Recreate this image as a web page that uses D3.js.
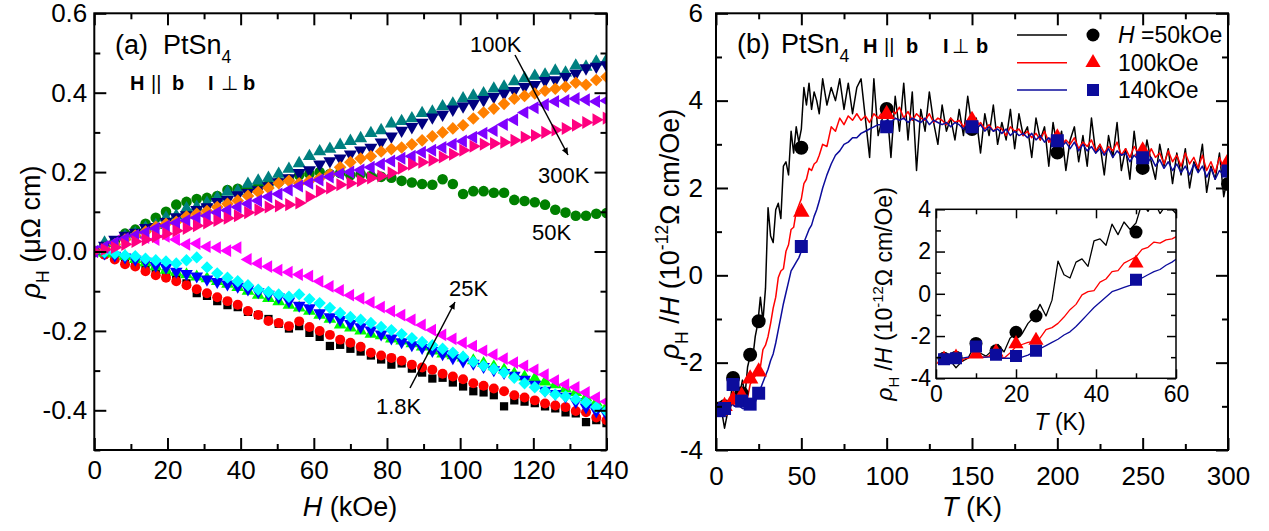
<!DOCTYPE html>
<html><head><meta charset="utf-8">
<script src="https://cdn.jsdelivr.net/npm/d3@7"></script>
<style>
body{margin:0;background:#fff}
svg{font-family:"Liberation Sans",Arial,sans-serif}
</style>
</head><body>
<svg id="c" width="1269" height="531"></svg>
<script>
// ---------------- DATA: panel (a) rho_H vs H ----------------
const fieldH = [0,2.8,5.6,8.4,11.2,14,16.8,19.6,22.4,25.2,
28,30.8,33.6,36.4,39.2,42,44.8,47.6,50.4,53.2,
56,58.8,61.6,64.4,67.2,70,72.8,75.6,78.4,81.2,
84,86.8,89.6,92.4,95.2,98,100.8,103.6,106.4,109.2,
112,114.8,117.6,120.4,123.2,126,128.8,131.6,134.4,137.2,
140];
const rho1p8K = [0.000,-0.005,-0.012,-0.020,-0.026,-0.035,-0.045,-0.055,-0.068,-0.080,
-0.105,-0.112,-0.125,-0.135,-0.140,-0.152,-0.160,-0.170,-0.182,-0.194,
-0.188,-0.205,-0.215,-0.238,-0.235,-0.245,-0.252,-0.262,-0.272,-0.285,
-0.282,-0.295,-0.305,-0.320,-0.318,-0.330,-0.340,-0.352,-0.355,-0.362,
-0.390,-0.375,-0.378,-0.382,-0.390,-0.395,-0.405,-0.408,-0.430,-0.425,
-0.432];
const rho5K = [0.000,-0.008,-0.020,-0.032,-0.038,-0.050,-0.060,-0.066,-0.075,-0.085,
-0.095,-0.105,-0.115,-0.125,-0.134,-0.150,-0.160,-0.175,-0.180,-0.188,
-0.176,-0.190,-0.200,-0.210,-0.222,-0.230,-0.240,-0.255,-0.262,-0.268,
-0.275,-0.285,-0.292,-0.298,-0.308,-0.315,-0.322,-0.332,-0.338,-0.345,
-0.352,-0.362,-0.368,-0.375,-0.383,-0.388,-0.392,-0.402,-0.405,-0.418,
-0.425];
const rho10K = [0.000,-0.004,-0.006,-0.012,-0.020,-0.028,-0.038,-0.047,-0.052,-0.058,
-0.064,-0.068,-0.075,-0.082,-0.090,-0.100,-0.110,-0.118,-0.126,-0.135,
-0.142,-0.150,-0.160,-0.170,-0.185,-0.192,-0.200,-0.208,-0.212,-0.220,
-0.225,-0.232,-0.240,-0.250,-0.258,-0.262,-0.268,-0.275,-0.282,-0.290,
-0.298,-0.308,-0.316,-0.320,-0.328,-0.335,-0.345,-0.355,-0.368,-0.380,
-0.392];
const rho15K = [0.000,-0.004,-0.010,-0.014,-0.020,-0.025,-0.035,-0.040,-0.050,-0.056,
-0.062,-0.070,-0.076,-0.082,-0.088,-0.095,-0.102,-0.108,-0.115,-0.125,
-0.136,-0.142,-0.155,-0.165,-0.172,-0.182,-0.190,-0.198,-0.208,-0.218,
-0.228,-0.235,-0.242,-0.250,-0.258,-0.268,-0.276,-0.282,-0.290,-0.298,
-0.305,-0.312,-0.322,-0.335,-0.350,-0.358,-0.365,-0.378,-0.392,-0.402,
-0.410];
const rho20K = [0.000,-0.002,-0.005,-0.010,-0.012,-0.018,-0.022,-0.025,-0.030,-0.022,
-0.015,-0.040,-0.055,-0.066,-0.075,-0.085,-0.096,-0.102,-0.108,-0.114,
-0.108,-0.120,-0.130,-0.142,-0.155,-0.165,-0.172,-0.180,-0.190,-0.198,
-0.208,-0.218,-0.228,-0.236,-0.245,-0.255,-0.265,-0.278,-0.288,-0.296,
-0.305,-0.318,-0.332,-0.342,-0.352,-0.360,-0.365,-0.372,-0.380,-0.392,
-0.402];
const rho25K = [0.000,0.010,0.025,0.040,0.050,0.035,0.030,0.038,0.030,0.018,
0.020,0.012,0.010,0.002,0.010,-0.020,-0.030,-0.038,-0.047,-0.052,
-0.058,-0.062,-0.075,-0.088,-0.098,-0.110,-0.118,-0.128,-0.140,-0.150,
-0.160,-0.172,-0.185,-0.198,-0.210,-0.220,-0.230,-0.238,-0.250,-0.260,
-0.270,-0.280,-0.288,-0.298,-0.310,-0.325,-0.335,-0.342,-0.355,-0.368,
-0.378];
const rho50K = [0.000,0.012,0.025,0.045,0.055,0.070,0.085,0.100,0.118,0.125,
0.132,0.135,0.140,0.155,0.158,0.160,0.165,0.168,0.175,0.182,
0.192,0.196,0.200,0.195,0.198,0.192,0.195,0.190,0.188,0.186,
0.178,0.174,0.170,0.168,0.182,0.170,0.145,0.152,0.152,0.148,
0.148,0.130,0.127,0.124,0.118,0.105,0.098,0.090,0.090,0.095,
0.097];
const rho100K = [0.000,0.022,0.020,0.038,0.045,0.060,0.066,0.085,0.090,0.108,
0.112,0.122,0.135,0.150,0.152,0.170,0.178,0.185,0.195,0.208,
0.222,0.240,0.252,0.258,0.268,0.278,0.285,0.298,0.305,0.322,
0.328,0.335,0.348,0.352,0.365,0.372,0.385,0.392,0.398,0.410,
0.415,0.428,0.436,0.442,0.445,0.455,0.450,0.468,0.465,0.478,
0.482];
const rho150K = [0.000,0.015,0.030,0.040,0.048,0.060,0.062,0.075,0.087,0.092,
0.105,0.112,0.125,0.130,0.142,0.148,0.155,0.165,0.175,0.185,
0.198,0.205,0.220,0.228,0.235,0.245,0.255,0.262,0.275,0.290,
0.305,0.314,0.325,0.338,0.345,0.358,0.366,0.372,0.382,0.390,
0.398,0.405,0.415,0.420,0.430,0.432,0.440,0.448,0.462,0.466,
0.470];
const rho200K = [0.000,0.008,0.018,0.030,0.040,0.050,0.062,0.070,0.075,0.088,
0.095,0.102,0.112,0.120,0.128,0.140,0.150,0.160,0.172,0.178,
0.172,0.178,0.185,0.195,0.212,0.225,0.234,0.240,0.252,0.258,
0.262,0.270,0.280,0.290,0.300,0.310,0.318,0.335,0.350,0.360,
0.372,0.385,0.392,0.398,0.405,0.410,0.415,0.425,0.420,0.432,
0.440];
const rho250K = [0.000,0.012,0.022,0.032,0.040,0.048,0.058,0.064,0.072,0.078,
0.085,0.090,0.098,0.104,0.112,0.120,0.128,0.138,0.145,0.155,
0.165,0.172,0.180,0.188,0.195,0.200,0.205,0.212,0.220,0.228,
0.235,0.240,0.250,0.255,0.262,0.270,0.278,0.288,0.298,0.305,
0.320,0.332,0.350,0.362,0.370,0.378,0.380,0.385,0.382,0.378,
0.380];
const rho300K = [0.000,0.005,0.010,0.018,0.025,0.030,0.038,0.045,0.052,0.058,
0.065,0.072,0.078,0.084,0.090,0.098,0.105,0.112,0.115,0.118,
0.122,0.138,0.152,0.160,0.168,0.172,0.178,0.185,0.190,0.198,
0.210,0.220,0.225,0.230,0.238,0.245,0.255,0.265,0.270,0.272,
0.275,0.280,0.288,0.292,0.300,0.306,0.310,0.318,0.325,0.332,
0.336];
const seriesNamesA = ["1.8K","5K","10K","15K","20K","25K","50K","100K","150K","200K","250K","300K"];
const seriesValuesA = [rho1p8K,rho5K,rho10K,rho15K,rho20K,rho25K,rho50K,rho100K,rho150K,rho200K,rho250K,rho300K];

// ---------------- DATA: panel (b) rho_H/H vs T ----------------
const tempLine = [2,3.5,5,6.5,8,9.5,11,12.5,14,15.5,
17,18.5,20,21.5,23,24.5,26,27.5,29,30.5,
32,33.5,35,36.5,38,39.5,41,42.5,44,45.5,
47,48.5,50,51.5,53,54.5,56,57.5,59,60.5,
62.5,65,67.5,70,72.5,75,77.5,80,82.5,85,
87.5,90,92.5,95,97.5,100,102.5,105,107.5,110,
112.5,115,117.5,120,122.5,125,127.5,130,132.5,135,
137.5,140,142.5,145,147.5,150,152.5,155,157.5,160,
162.5,165,167.5,170,172.5,175,177.5,180,182.5,185,
187.5,190,192.5,195,197.5,200,202.5,205,207.5,210,
212.5,215,217.5,220,222.5,225,227.5,230,232.5,235,
237.5,240,242.5,245,247.5,250,252.5,255,257.5,260,
262.5,265,267.5,270,272.5,275,277.5,280,282.5,285,
287.5,290,292.5,295,297.5,300];
const ratio50kOe = [-3.10,-3.15,-3.50,-3.20,-3.05,-2.50,-2.80,-2.95,-2.70,-2.40,
-2.75,-2.10,-1.85,-1.90,-1.40,-1.10,-0.50,-1.05,-0.30,1.55,
0.90,0.75,1.50,1.65,1.30,2.50,2.60,2.30,3.30,2.80,
3.40,3.05,3.35,4.30,3.90,4.40,3.80,4.20,4.00,3.70,
4.50,3.90,4.30,4.00,4.50,3.80,4.40,3.70,4.30,4.50,
3.60,2.70,4.50,3.20,3.60,3.90,2.70,4.10,3.30,4.40,
3.10,4.20,2.40,3.80,3.30,4.20,3.50,3.00,3.90,3.30,
3.60,3.10,3.80,3.20,4.10,3.40,3.60,2.80,3.70,3.20,
3.90,3.00,3.50,3.10,3.80,2.90,3.70,3.20,3.40,2.70,
3.60,3.10,3.40,2.50,3.50,2.90,3.30,2.40,3.10,3.40,
2.60,3.20,2.50,3.60,2.80,3.00,2.30,3.20,2.70,3.50,
2.40,2.90,2.20,3.30,2.50,2.40,3.10,2.60,2.20,3.00,
2.50,2.90,2.10,2.80,2.30,2.90,2.00,2.60,2.40,3.00,
1.90,2.50,2.20,2.80,1.80,2.30];
const ratio100kOe = [-3.10,-3.15,-3.20,-3.10,-3.05,-2.90,-3.00,-3.00,-2.90,-2.85,
-3.05,-2.80,-2.50,-2.40,-2.30,-2.25,-2.10,-1.70,-1.60,-1.40,
-1.10,-0.75,-0.50,-0.05,0.10,0.15,0.55,0.70,1.05,1.10,
1.45,1.60,1.75,2.10,2.20,2.45,2.40,2.55,2.60,2.75,
3.00,2.95,3.40,3.30,3.60,3.45,3.65,3.55,3.70,3.55,
3.65,3.50,3.70,3.60,3.75,3.65,3.80,3.70,3.85,3.60,
3.75,3.55,3.70,3.60,3.55,3.70,3.50,3.60,3.55,3.45,
3.60,3.50,3.55,3.40,3.50,3.55,3.40,3.50,3.35,3.45,
3.30,3.40,3.35,3.20,3.40,3.30,3.35,3.20,3.30,3.15,
3.25,3.10,3.30,3.05,3.20,3.15,2.95,3.10,3.00,3.15,
2.90,3.05,2.95,3.10,2.85,3.00,2.80,2.95,2.85,3.05,
2.75,2.90,2.70,2.95,2.80,2.85,2.65,2.90,2.70,2.80,
2.55,2.85,2.60,2.75,2.50,2.80,2.55,2.70,2.45,2.75,
2.40,2.60,2.35,2.70,2.45,2.60];
const ratio140kOe = [-3.10,-3.10,-3.10,-3.05,-3.00,-2.95,-3.00,-3.00,-3.00,-3.05,
-3.05,-3.05,-3.00,-3.00,-2.90,-2.75,-2.60,-2.45,-2.30,-2.15,
-1.95,-1.80,-1.55,-1.25,-0.95,-0.65,-0.40,-0.15,0.10,0.20,
0.30,0.40,0.55,0.75,0.90,1.05,1.15,1.35,1.50,1.70,
2.00,2.30,2.55,2.75,2.85,3.00,3.05,3.15,3.15,3.25,
3.30,3.35,3.40,3.45,3.45,3.55,3.50,3.60,3.55,3.60,
3.50,3.60,3.55,3.50,3.60,3.45,3.55,3.50,3.45,3.50,
3.40,3.50,3.45,3.35,3.45,3.40,3.35,3.45,3.30,3.40,
3.30,3.35,3.25,3.35,3.20,3.30,3.20,3.25,3.15,3.25,
3.10,3.20,3.05,3.15,3.00,3.10,2.95,3.05,2.90,3.05,
2.85,3.00,2.85,2.95,2.80,2.90,2.75,2.90,2.70,2.85,
2.75,2.80,2.60,2.75,2.65,2.70,2.55,2.70,2.50,2.65,
2.45,2.60,2.40,2.55,2.35,2.50,2.30,2.55,2.35,2.50,
2.25,2.45,2.20,2.40,2.30,2.45];
const tempPts = [2,5,10,15,20,25,50,100,150,200,250,300];
const pts50kOe  = [-3.05,-3.00,-2.35,-2.70,-1.82,-1.05,2.92,3.81,3.35,2.81,2.46,2.09];
const pts100kOe = [-3.10,-3.00,-2.85,-2.76,-2.37,-2.21,1.45,3.69,3.55,3.15,2.85,2.60];
const pts140kOe = [-3.10,-3.05,-2.50,-2.88,-2.95,-2.70,0.66,3.40,3.40,3.08,2.69,2.39];
const legendLabelsB = ["=50kOe","100kOe","140kOe"];

// ---------------- TICKS ----------------
const xMajorA = [0,20,40,60,80,100,120,140];
const xMinorA = [10,30,50,70,90,110,130];
const yMajorA = [-0.4,-0.2,0,0.2,0.4,0.6];
const yMinorA = [-0.5,-0.3,-0.1,0.1,0.3,0.5];
const xMajorB = [0,50,100,150,200,250,300];
const xMinorB = [25,75,125,175,225,275];
const yMajorB = [-4,-2,0,2,4,6];
const yMinorB = [-3,-1,1,3,5];
const xMajorI = [0,20,40,60];
const xMinorI = [10,30,50];
const yMajorI = [-4,-2,0,2,4];
const yMinorI = [-3,-1,1,3];

// ---------------- STYLES ----------------
const styleA = [
  {c:"#000000", s:"square", z:68},
  {c:"#ff0000", s:"circle", z:78},
  {c:"#00ff00", s:"up", z:70},
  {c:"#0000ff", s:"down", z:70},
  {c:"#00ffff", s:"diamond", z:76},
  {c:"#ff00ff", s:"left", z:70},
  {c:"#008000", s:"circle", z:88},
  {c:"#008080", s:"up", z:74},
  {c:"#000080", s:"down", z:74},
  {c:"#ff8000", s:"diamond", z:80},
  {c:"#8000ff", s:"left", z:74},
  {c:"#ff0080", s:"right", z:74}
];
const colB = ["#000000","#ff0000","#0c0c9c"];

const svg = d3.select("#c");
const defs = svg.append("defs");
defs.append("marker").attr("id","ah").attr("viewBox","0 0 10 10").attr("refX",10).attr("refY",5)
  .attr("markerWidth",11).attr("markerHeight",7).attr("markerUnits","userSpaceOnUse").attr("orient","auto")
  .append("path").attr("d","M0,0.5 L10,5 L0,9.5 Z").attr("fill","#000");

function symPath(shape, size){
  const t = {circle:d3.symbolCircle, square:d3.symbolSquare, diamond:d3.symbolSquare,
             up:d3.symbolTriangle, down:d3.symbolTriangle, left:d3.symbolTriangle, right:d3.symbolTriangle}[shape];
  const rot = {diamond:45, down:180, left:-90, right:90}[shape] || 0;
  return {d:d3.symbol(t, size)(), rot};
}

function clip(id, x, y){
  const [x0,x1]=x.range(), [y0,y1]=y.range();
  defs.append("clipPath").attr("id",id).append("rect")
    .attr("x",x0).attr("y",y1).attr("width",x1-x0).attr("height",y0-y1);
}

function frame(g, x, y, o){
  const [x0,x1]=x.range(), [y0,y1]=y.range();
  const styleAx = sel => {
    sel.select(".domain").remove();
    sel.selectAll("line").attr("stroke","#000").attr("stroke-width",o.tw);
    sel.selectAll("text").attr("font-size",o.fs).attr("fill","#000").attr("font-family","'Liberation Sans',Arial,sans-serif");
  };
  g.append("g").attr("transform",`translate(0,${y0})`)
    .call(d3.axisBottom(x).tickValues(o.xMaj).tickSize(-o.maj).tickPadding(o.padX).tickFormat(o.fx)).call(styleAx);
  g.append("g").attr("transform",`translate(0,${y0})`)
    .call(d3.axisBottom(x).tickValues(o.xMin).tickSize(-o.min).tickFormat("")).call(styleAx);
  g.append("g").attr("transform",`translate(0,${y1})`)
    .call(d3.axisTop(x).tickValues(o.xMaj).tickSize(-o.maj).tickFormat("")).call(styleAx);
  g.append("g").attr("transform",`translate(0,${y1})`)
    .call(d3.axisTop(x).tickValues(o.xMin).tickSize(-o.min).tickFormat("")).call(styleAx);
  g.append("g").attr("transform",`translate(${x0},0)`)
    .call(d3.axisLeft(y).tickValues(o.yMaj).tickSize(-o.maj).tickPadding(o.padY).tickFormat(o.fy)).call(styleAx);
  g.append("g").attr("transform",`translate(${x0},0)`)
    .call(d3.axisLeft(y).tickValues(o.yMin).tickSize(-o.min).tickFormat("")).call(styleAx);
  g.append("g").attr("transform",`translate(${x1},0)`)
    .call(d3.axisRight(y).tickValues(o.yMaj).tickSize(-o.maj).tickFormat("")).call(styleAx);
  g.append("g").attr("transform",`translate(${x1},0)`)
    .call(d3.axisRight(y).tickValues(o.yMin).tickSize(-o.min).tickFormat("")).call(styleAx);
  g.append("rect").attr("x",x0).attr("y",y1).attr("width",x1-x0).attr("height",y0-y1)
    .attr("fill","none").attr("stroke","#000").attr("stroke-width",o.bw);
}

function rich(parent, parts, base){
  const t = parent.append("text").attr("font-size", base.size).attr("fill","#000");
  if (base.anchor) t.attr("text-anchor", base.anchor);
  if (base.x!=null) t.attr("x", base.x);
  if (base.y!=null) t.attr("y", base.y);
  if (base.transform) t.attr("transform", base.transform);
  let shift = 0;
  parts.forEach(p=>{
    const ts = t.append("tspan").text(p.t);
    const target = p.sub ? base.size*0.32 : (p.sup ? -base.size*0.4 : 0);
    if (target !== shift){ ts.attr("dy", target-shift); shift = target; }
    if (p.sub || p.sup) ts.attr("font-size", base.size*0.65);
    if (p.fs) ts.attr("font-size", p.fs);
    if (p.it) ts.attr("font-style","italic");
    if (p.b) ts.attr("font-weight","bold");
    if (p.x!=null) ts.attr("x", p.x);
  });
  return t;
}

const fmtHyph = d => String(d).replace("\u2212","-");

// ================= PANEL (a) =================
const xA = d3.scaleLinear([0,140],[94.3,606.5]);
const yA = d3.scaleLinear([-0.5,0.6],[450,13.3]);
clip("clipA", xA, yA);
const gA = svg.append("g");
const dataA = gA.append("g").attr("clip-path","url(#clipA)");
seriesValuesA.forEach((vals, si)=>{
  const st = styleA[si];
  const sp = symPath(st.s, st.z);
  dataA.append("g").selectAll("path").data(vals.map((v,i)=>[fieldH[i], v])).join("path")
    .attr("d", sp.d)
    .attr("transform", d=>`translate(${xA(d[0])},${yA(d[1])}) rotate(${sp.rot})`)
    .attr("fill", st.c);
});
frame(gA, xA, yA, {xMaj:xMajorA, xMin:xMinorA, yMaj:yMajorA, yMin:yMinorA,
  fx:d=>String(d), fy:d=> d===0 ? "0.0" : d.toFixed(1),
  maj:12, min:6, padX:11, padY:7, fs:26, tw:2, bw:2});

rich(gA, [{t:"H",it:true},{t:" (kOe)"}], {size:27, anchor:"middle", x:350, y:516});
rich(gA, [{t:"\u03C1",it:true},{t:"H",sub:true},{t:" (\u03BC\u03A9 cm)"}],
  {size:27, anchor:"middle", transform:"translate(40,232) rotate(-90)"});
rich(gA, [{t:"(a)",x:115},{t:"PtSn",x:163},{t:"4",sub:true}], {size:27, y:54});
rich(gA, [{t:"H",b:true,x:130},{t:"||",x:151},{t:"b",b:true,x:172},{t:"I",b:true,x:208},{t:"\u22A5",x:221},{t:"b",b:true,x:243}], {size:20, y:90});

const annA = [["100K",470,52],["300K",538,183],["50K",532,240],["25K",449,296],["1.8K",376,414]];
annA.forEach(a=> gA.append("text").attr("x",a[1]).attr("y",a[2]).attr("font-size",22).text(a[0]));
gA.append("line").attr("x1",515).attr("y1",55).attr("x2",568).attr("y2",155)
  .attr("stroke","#000").attr("stroke-width",1.5).attr("marker-end","url(#ah)");
gA.append("line").attr("x1",410).attr("y1",388).attr("x2",455).attr("y2",302)
  .attr("stroke","#000").attr("stroke-width",1.5).attr("marker-end","url(#ah)");

// ================= PANEL (b) =================
const lineSets = [ratio50kOe, ratio100kOe, ratio140kOe];
const ptSets = [pts50kOe, pts100kOe, pts140kOe];
const shapesB = ["circle","up","square"];

function drawB(g, x, y, lw, sizes){
  const ln = d3.line().x(d=>x(d[0])).y(d=>y(d[1]));
  lineSets.forEach((vals,k)=>{
    g.append("path").attr("d", ln(vals.map((v,i)=>[tempLine[i], v])))
      .attr("fill","none").attr("stroke", colB[k]).attr("stroke-width", lw).attr("stroke-linejoin","round");
  });
  ptSets.forEach((vals,k)=>{
    const sp = symPath(shapesB[k], sizes[k]);
    g.append("g").selectAll("path").data(vals.map((v,i)=>[tempPts[i], v])).join("path")
      .attr("d", sp.d).attr("transform", d=>`translate(${x(d[0])},${y(d[1])}) rotate(${sp.rot})`)
      .attr("fill", colB[k]);
  });
}

const xB = d3.scaleLinear([0,300],[716,1228]);
const yB = d3.scaleLinear([-4,6],[450,13.3]);
clip("clipB", xB, yB);
const gB = svg.append("g");
const dataB = gB.append("g").attr("clip-path","url(#clipB)");
drawB(dataB, xB, yB, 1.5, [154,118,169]);
frame(gB, xB, yB, {xMaj:xMajorB, xMin:xMinorB, yMaj:yMajorB, yMin:yMinorB,
  fx:d=>String(d), fy:fmtHyph, maj:12, min:6, padX:17, padY:13, fs:26, tw:2, bw:2});
rich(gB, [{t:"T",it:true},{t:" (K)"}], {size:27, anchor:"middle", x:972, y:516});
rich(gB, [{t:"\u03C1",it:true},{t:"H",sub:true},{t:" /"},{t:"H",it:true},{t:" (10"},{t:"-12",sup:true},{t:"\u03A9 cm/Oe)"}],
  {size:27, anchor:"middle", transform:"translate(679,234) rotate(-90)"});
rich(gB, [{t:"(b)",x:737},{t:"PtSn",x:781},{t:"4",sub:true}], {size:27, y:53});
rich(gB, [{t:"H",b:true,x:863},{t:"||",x:884},{t:"b",b:true,x:906},{t:"I",b:true,x:943},{t:"\u22A5",x:952},{t:"b",b:true,x:976}], {size:20, y:53});

// legend
const legY = [35, 62.7, 90];
const legSizes = [133, 100, 144];
legY.forEach((ly,k)=>{
  gB.append("line").attr("x1",1017).attr("x2",1067).attr("y1",ly).attr("y2",ly)
    .attr("stroke",colB[k]).attr("stroke-width",1.5);
  const sp = symPath(shapesB[k], legSizes[k]);
  gB.append("path").attr("d",sp.d).attr("transform",`translate(1093,${ly}) rotate(${sp.rot})`).attr("fill",colB[k]);
});
rich(gB, [{t:"H",it:true},{t:" "+legendLabelsB[0]}], {size:23, x:1118, y:legY[0]+8});
rich(gB, [{t:legendLabelsB[1]}], {size:23, x:1118, y:legY[1]+8});
rich(gB, [{t:legendLabelsB[2]}], {size:23, x:1118, y:legY[2]+8});

// ================= INSET =================
const xI = d3.scaleLinear([0,60],[936,1176]);
const yI = d3.scaleLinear([-4,4],[378.3,209.3]);
clip("clipI", xI, yI);
const gI = svg.append("g");
gI.append("rect").attr("x",936).attr("y",209.3).attr("width",240).attr("height",169).attr("fill","#fff");
const dataI = gI.append("g").attr("clip-path","url(#clipI)");
drawB(dataI, xI, yI, 1.3, [133,100,144]);
frame(gI, xI, yI, {xMaj:xMajorI, xMin:xMinorI, yMaj:yMajorI, yMin:yMinorI,
  fx:d=>String(d), fy:fmtHyph, maj:9, min:5, padX:7, padY:5, fs:23, tw:1.5, bw:1.5});
rich(gI, [{t:"T",it:true},{t:" (K)"}], {size:23, anchor:"middle", x:1060, y:430});
rich(gI, [{t:"\u03C1",it:true},{t:"H",sub:true},{t:" /"},{t:"H",it:true},{t:" (10"},{t:"-12",sup:true},{t:"\u03A9 cm/Oe)"}],
  {size:23, anchor:"middle", transform:"translate(892,294) rotate(-90)"});
</script>
</body></html>
